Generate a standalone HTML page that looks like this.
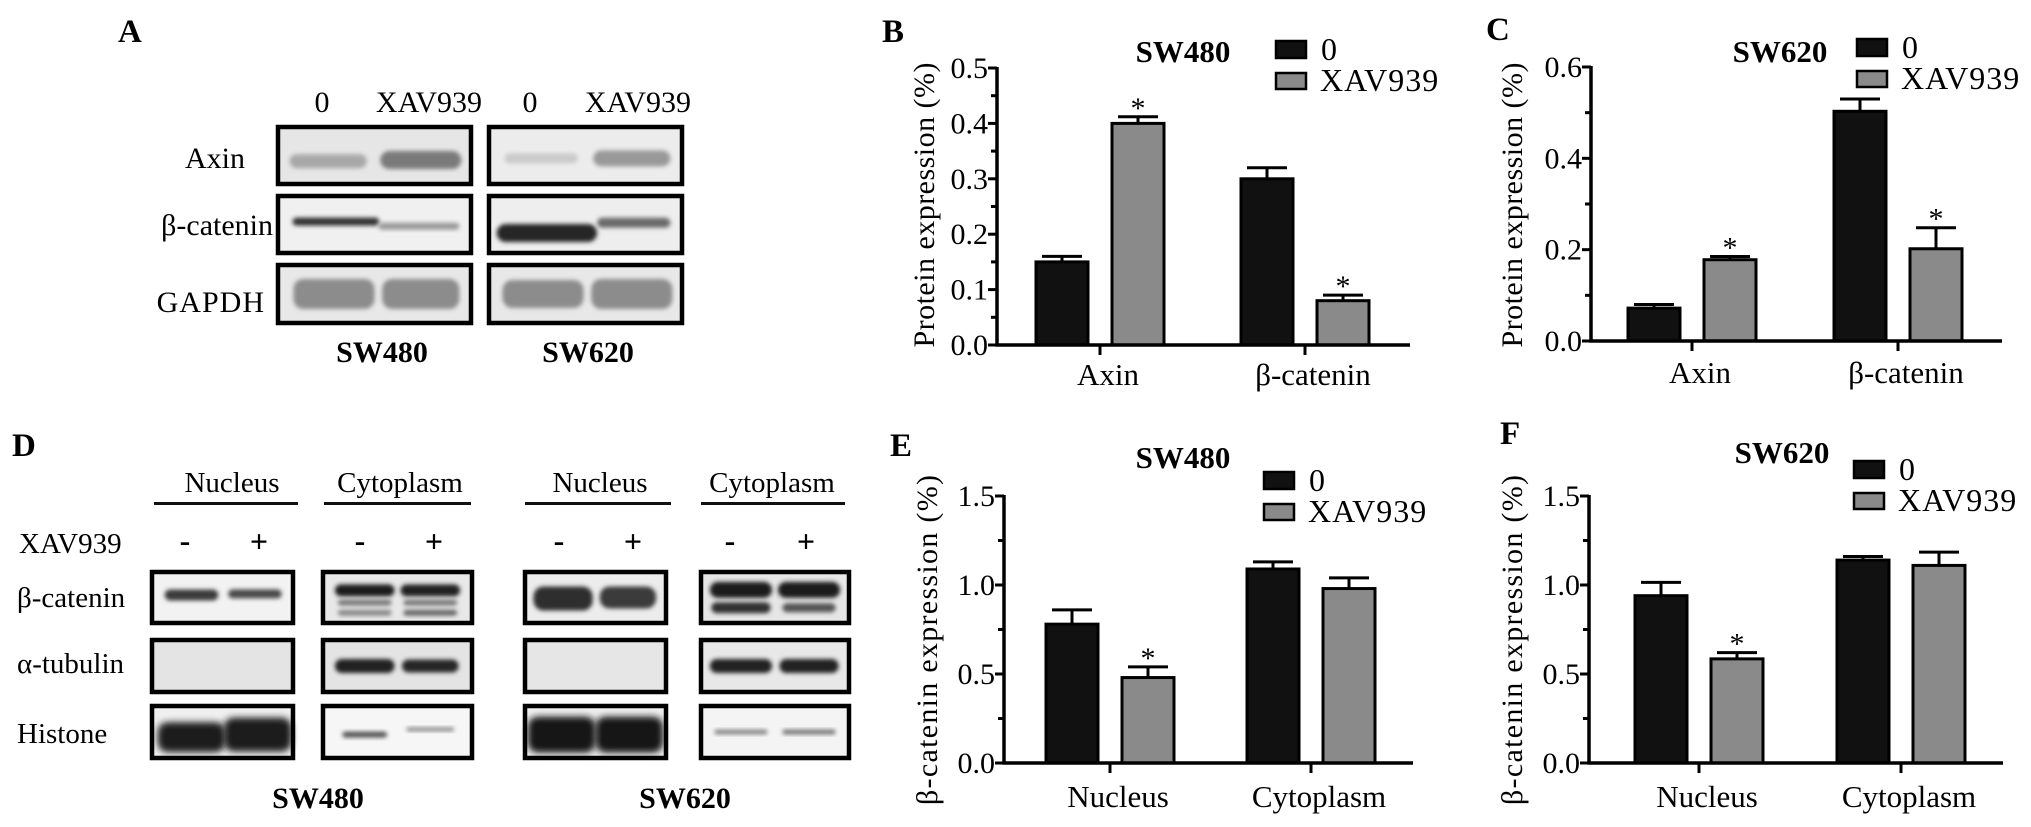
<!DOCTYPE html>
<html><head><meta charset="utf-8"><style>
html,body{margin:0;padding:0;background:#fff;}
svg{display:block;}
svg text{font-family:"Liberation Serif","DejaVu Serif",serif;}
</style></head><body>
<svg id="fig" width="2031" height="827" viewBox="0 0 2031 827" xmlns="http://www.w3.org/2000/svg">
<defs>
<filter id="bl" x="-20%" y="-50%" width="140%" height="200%"><feGaussianBlur stdDeviation="2.2"/></filter>
<filter id="bl2" x="-20%" y="-50%" width="140%" height="200%"><feGaussianBlur stdDeviation="3.5"/></filter>
</defs>
<g>
<text x="118" y="42" font-size="33" font-weight="bold">A</text>
<text x="882" y="42" font-size="33" font-weight="bold">B</text>
<text x="1486" y="40" font-size="33" font-weight="bold">C</text>
<text x="12" y="456" font-size="33" font-weight="bold">D</text>
<text x="890" y="456" font-size="33" font-weight="bold">E</text>
<text x="1500" y="444" font-size="33" font-weight="bold">F</text>

<g font-size="30">
<text x="322" y="112" text-anchor="middle">0</text>
<text x="429" y="112" text-anchor="middle">XAV939</text>
<text x="530" y="112" text-anchor="middle">0</text>
<text x="638" y="112" text-anchor="middle">XAV939</text>
<text x="245" y="168" text-anchor="end">Axin</text>
<text x="273" y="235" text-anchor="end">β-catenin</text>
<text x="265" y="312" text-anchor="end" letter-spacing="1">GAPDH</text>
<text x="382" y="362" text-anchor="middle" font-weight="bold">SW480</text>
<text x="588" y="362" text-anchor="middle" font-weight="bold">SW620</text>
<g id="blotsA"></g>
</g>

<g font-size="29">
<text x="232" y="492" text-anchor="middle">Nucleus</text>
<text x="400" y="492" text-anchor="middle">Cytoplasm</text>
<text x="600" y="492" text-anchor="middle">Nucleus</text>
<text x="772" y="492" text-anchor="middle">Cytoplasm</text>
<rect x="154" y="502" width="144" height="3" fill="#111"/>
<rect x="324" y="502" width="147" height="3" fill="#111"/>
<rect x="525" y="502" width="146" height="3" fill="#111"/>
<rect x="701" y="502" width="144" height="3" fill="#111"/>
<text x="19" y="553">XAV939</text>
<g font-size="32" font-weight="bold" text-anchor="middle">
<text x="185" y="551">-</text>
<text x="259" y="552">+</text>
<text x="360" y="551">-</text>
<text x="434" y="552">+</text>
<text x="559" y="551">-</text>
<text x="633" y="552">+</text>
<text x="730" y="551">-</text>
<text x="806" y="552">+</text>
</g>
<text x="17" y="607">β-catenin</text>
<text x="17" y="673">α-tubulin</text>
<text x="17" y="743">Histone</text>
<text x="318" y="808" text-anchor="middle" font-weight="bold" font-size="30">SW480</text>
<text x="685" y="808" text-anchor="middle" font-weight="bold" font-size="30">SW620</text>
<g id="blotsD"></g>
</g>

<g id="charts"></g>
</g>
</svg>
<script>
const bCategories = ["Axin", "β-catenin"];
const bControl = [0.15, 0.30];
const bControlErr = [0.01, 0.02];
const bXav = [0.40, 0.08];
const bXavErr = [0.012, 0.01];
const bSig = [true, true];
const bTicks = [0, 0.1, 0.2, 0.3, 0.4, 0.5];
const bTickLabels = ["0.0", "0.1", "0.2", "0.3", "0.4", "0.5"];

const cCategories = ["Axin", "β-catenin"];
const cControl = [0.072, 0.503];
const cControlErr = [0.008, 0.027];
const cXav = [0.178, 0.202];
const cXavErr = [0.007, 0.046];
const cSig = [true, true];
const cTicks = [0, 0.2, 0.4, 0.6];
const cTickLabels = ["0.0", "0.2", "0.4", "0.6"];

const eCategories = ["Nucleus", "Cytoplasm"];
const eControl = [0.78, 1.09];
const eControlErr = [0.08, 0.04];
const eXav = [0.48, 0.98];
const eXavErr = [0.06, 0.06];
const eSig = [true, false];
const eTicks = [0, 0.5, 1.0, 1.5];
const eTickLabels = ["0.0", "0.5", "1.0", "1.5"];

const fCategories = ["Nucleus", "Cytoplasm"];
const fControl = [0.94, 1.14];
const fControlErr = [0.075, 0.02];
const fXav = [0.585, 1.11];
const fXavErr = [0.035, 0.075];
const fSig = [true, false];
const fTicks = [0, 0.5, 1.0, 1.5];
const fTickLabels = ["0.0", "0.5", "1.0", "1.5"];

const NS = "http://www.w3.org/2000/svg";
function mk(tag, attrs, parent) {
  const e = document.createElementNS(NS, tag);
  for (const k in attrs) e.setAttribute(k, attrs[k]);
  parent.appendChild(e);
  return e;
}

function drawChart(L, d) {
  const root = document.getElementById("charts");
  const g = mk("g", {}, root);
  
  
  const ymax = d.ticks[d.ticks.length - 1];
  const y = v => L.y0 - (v / ymax) * (L.y0 - L.yTop);
  for (let i = 0; i < d.cats.length; i++) {
    const cx = L.catX[i];
    const series = [[d.ctrl[i], d.ctrlErr[i], "#111", -1, false], [d.xav[i], d.xavErr[i], "#8a8a8a", 1, d.sig[i]]];
    series.forEach(s => {
      const w = 52;
      const x0 = s[3] < 0 ? cx - 12 - w : cx + 12;
      const top = y(s[0]);
      const et = y(s[0] + s[1]);
      const bc = x0 + w / 2;
      const eb = mk("path", {d: `M${bc} ${top} V${et} M${bc - 20} ${et} H${bc + 20}`, stroke: "#000", "stroke-width": 3, fill: "none"}, g);
      
      
      const r = mk("rect", {x: x0, y: top, width: w, height: L.y0 - top, fill: s[2], stroke: "#000", "stroke-width": 3}, g);
      
      
      if (s[4]) {
        const t = mk("text", {x: bc, y: et + 1, "text-anchor": "middle", "font-size": 30}, g);
        t.textContent = "*";
        
        
      }
    });
    const tk = mk("line", {x1: cx, x2: cx, y1: L.y0, y2: L.y0 + 10, stroke: "#000", "stroke-width": 3}, g);
    
    
    const cl = mk("text", {x: cx + 8, y: L.catY, "text-anchor": "middle", "font-size": 31}, g);
    cl.textContent = d.cats[i];
    
    
  }
  const ax = mk("path", {d: `M${L.ax} ${L.yTop - 1} V${L.y0} H${L.xEnd}`, stroke: "#000", "stroke-width": 3.5, fill: "none"}, g);
  
  
  for (let i = 0; i < d.ticks.length; i++) {
    const ty = y(d.ticks[i]);
    const t = mk("line", {x1: L.ax - 9, x2: L.ax, y1: ty, y2: ty, stroke: "#000", "stroke-width": 3}, g);
    
    
    if (i > 0) {
      const my = y((d.ticks[i] + d.ticks[i - 1]) / 2);
      const m = mk("line", {x1: L.ax - 6, x2: L.ax, y1: my, y2: my, stroke: "#000", "stroke-width": 3}, g);
      
      
    }
    const tl = mk("text", {x: L.ax - 9, y: ty + 10, "text-anchor": "end", "font-size": 30}, g);
    tl.textContent = d.tickLabels[i];
    
    
  }
  const yl = mk("text", {x: 0, y: 0, "text-anchor": "middle", "font-size": 30, transform: `translate(${L.ylx},${L.yly}) rotate(-90)`, textLength: L.ylLen, lengthAdjust: "spacing"}, g);
  yl.textContent = L.ylabel;
  
  
  const ti = mk("text", {x: L.titleX, y: L.titleY, "text-anchor": "middle", "font-size": 31, "font-weight": "bold"}, g);
  ti.textContent = L.title;
  
  
  const l1 = mk("rect", {x: L.lgX, y: L.lgY1, width: 30, height: 17, fill: "#111", stroke: "#000", "stroke-width": 2.5}, g);
  
  
  const l2 = mk("rect", {x: L.lgX, y: L.lgY2, width: 30, height: 16, fill: "#8a8a8a", stroke: "#000", "stroke-width": 2.5}, g);
  
  
  const t1 = mk("text", {x: L.lgX + 45, y: L.lgY1 + 19, "font-size": 32}, g);
  t1.textContent = "0";
  
  
  const t2 = mk("text", {x: L.lgX + 44, y: L.lgY2 + 18, "font-size": 32, "letter-spacing": 1}, g);
  t2.textContent = "XAV939";
  
  
}

drawChart({name: "chart-b-sw480-protein", ax: 997, yTop: 68, y0: 345, xEnd: 1410, catX: [1100, 1305], catY: 385,
  ylx: 934, yly: 205, ylLen: 285, ylabel: "Protein expression (%)", title: "SW480", titleX: 1183, titleY: 62, lgX: 1276, lgY1: 41, lgY2: 73},
  {cats: bCategories, ctrl: bControl, ctrlErr: bControlErr, xav: bXav, xavErr: bXavErr, sig: bSig, ticks: bTicks, tickLabels: bTickLabels});
drawChart({name: "chart-c-sw620-protein", ax: 1591, yTop: 67, y0: 341, xEnd: 2002, catX: [1692, 1898], catY: 383,
  ylx: 1522, yly: 205, ylLen: 285, ylabel: "Protein expression (%)", title: "SW620", titleX: 1780, titleY: 62, lgX: 1857, lgY1: 39, lgY2: 71},
  {cats: cCategories, ctrl: cControl, ctrlErr: cControlErr, xav: cXav, xavErr: cXavErr, sig: cSig, ticks: cTicks, tickLabels: cTickLabels});
drawChart({name: "chart-e-sw480-beta-catenin", ax: 1004, yTop: 496, y0: 763, xEnd: 1413, catX: [1110, 1311], catY: 807,
  ylx: 937, yly: 640, ylLen: 330, ylabel: "β-catenin expression (%)", title: "SW480", titleX: 1183, titleY: 468, lgX: 1264, lgY1: 472, lgY2: 504},
  {cats: eCategories, ctrl: eControl, ctrlErr: eControlErr, xav: eXav, xavErr: eXavErr, sig: eSig, ticks: eTicks, tickLabels: eTickLabels});
drawChart({name: "chart-f-sw620-beta-catenin", ax: 1589, yTop: 496, y0: 763, xEnd: 2003, catX: [1699, 1901], catY: 807,
  ylx: 1522, yly: 640, ylLen: 330, ylabel: "β-catenin expression (%)", title: "SW620", titleX: 1782, titleY: 463, lgX: 1854, lgY1: 461, lgY2: 493},
  {cats: fCategories, ctrl: fControl, ctrlErr: fControlErr, xav: fXav, xavErr: fXavErr, sig: fSig, ticks: fTicks, tickLabels: fTickLabels});

function blotBox(parent, x, y, w, h, bg, bands, name) {
  const g = mk("g", {}, parent);
  
  
  mk("rect", {x: x, y: y, width: w, height: h, fill: bg}, g);
  bands.forEach(b => {
    const e = mk("rect", {x: x + b[0] * w - b[2] * w / 2, y: y + b[1] * h - b[3] / 2, width: b[2] * w, height: b[3], rx: Math.min(b[3] / 2, 10), fill: b[4], filter: b[5] ? "url(#bl2)" : "url(#bl)"}, g);
    
    
  });
  mk("rect", {x: x, y: y, width: w, height: h, fill: "none", stroke: "#000", "stroke-width": 4.5}, g);
}
const A = document.getElementById("blotsA");
const aX = [278, 489], aW = 193, aRows = [[127, 57], [196, 57], [265, 58]];
blotBox(A, aX[0], aRows[0][0], aW, aRows[0][1], "#e6e6e6", [[0.26, 0.6, 0.4, 14, "#a8a8a8"], [0.74, 0.58, 0.42, 18, "#7a7a7a"]], "blot-axin-sw480");
blotBox(A, aX[1], aRows[0][0], aW, aRows[0][1], "#ececec", [[0.27, 0.55, 0.38, 10, "#cacaca"], [0.74, 0.55, 0.4, 16, "#999"]], "blot-axin-sw620");
blotBox(A, aX[0], aRows[1][0], aW, aRows[1][1], "#f0f0f0", [[0.3, 0.45, 0.45, 8, "#333"], [0.73, 0.53, 0.42, 7, "#999"]], "blot-beta-catenin-sw480");
blotBox(A, aX[1], aRows[1][0], aW, aRows[1][1], "#eeeeee", [[0.3, 0.65, 0.52, 18, "#262626"], [0.75, 0.47, 0.38, 10, "#6a6a6a"]], "blot-beta-catenin-sw620");
blotBox(A, aX[0], aRows[2][0], aW, aRows[2][1], "#e8e8e8", [[0.29, 0.5, 0.42, 30, "#8c8c8c"], [0.74, 0.5, 0.4, 30, "#8c8c8c"]], "blot-gapdh-sw480");
blotBox(A, aX[1], aRows[2][0], aW, aRows[2][1], "#e8e8e8", [[0.28, 0.5, 0.42, 28, "#8c8c8c"], [0.74, 0.5, 0.42, 30, "#8c8c8c"]], "blot-gapdh-sw620");

const D = document.getElementById("blotsD");
const dX = [[152, 141], [323, 149], [525, 141], [701, 148]];
const dRows = [[572, 51], [640, 52], [706, 52]];
blotBox(D, dX[0][0], dRows[0][0], dX[0][1], dRows[0][1], "#f2f2f2", [[0.28, 0.45, 0.38, 11, "#3a3a3a"], [0.73, 0.43, 0.38, 9, "#4a4a4a"]], "blot-d-beta-catenin-sw480-nucleus");
blotBox(D, dX[1][0], dRows[0][0], dX[1][1], dRows[0][1], "#e8e8e8", [[0.28, 0.36, 0.4, 12, "#1e1e1e"], [0.72, 0.36, 0.4, 12, "#222"], [0.28, 0.6, 0.36, 6, "#777"], [0.72, 0.6, 0.36, 6, "#777"], [0.28, 0.8, 0.36, 6, "#888"], [0.72, 0.8, 0.36, 6, "#666"]], "blot-d-beta-catenin-sw480-cytoplasm");
blotBox(D, dX[2][0], dRows[0][0], dX[2][1], dRows[0][1], "#ececec", [[0.27, 0.52, 0.42, 24, "#2e2e2e"], [0.73, 0.5, 0.4, 22, "#3a3a3a"]], "blot-d-beta-catenin-sw620-nucleus");
blotBox(D, dX[3][0], dRows[0][0], dX[3][1], dRows[0][1], "#e6e6e6", [[0.27, 0.35, 0.42, 16, "#1e1e1e"], [0.73, 0.35, 0.42, 16, "#1e1e1e"], [0.27, 0.7, 0.4, 11, "#333"], [0.73, 0.7, 0.36, 9, "#555"]], "blot-d-beta-catenin-sw620-cytoplasm");
blotBox(D, dX[0][0], dRows[1][0], dX[0][1], dRows[1][1], "#e4e4e4", [], "blot-d-alpha-tubulin-sw480-nucleus");
blotBox(D, dX[1][0], dRows[1][0], dX[1][1], dRows[1][1], "#e4e4e4", [[0.28, 0.5, 0.4, 14, "#222"], [0.72, 0.5, 0.38, 13, "#262626"]], "blot-d-alpha-tubulin-sw480-cytoplasm");
blotBox(D, dX[2][0], dRows[1][0], dX[2][1], dRows[1][1], "#e6e6e6", [], "blot-d-alpha-tubulin-sw620-nucleus");
blotBox(D, dX[3][0], dRows[1][0], dX[3][1], dRows[1][1], "#e8e8e8", [[0.27, 0.5, 0.42, 14, "#222"], [0.73, 0.5, 0.4, 14, "#222"]], "blot-d-alpha-tubulin-sw620-cytoplasm");
blotBox(D, dX[0][0], dRows[2][0], dX[0][1], dRows[2][1], "#f0f0f0", [[0.28, 0.6, 0.48, 30, "#1a1a1a", 1], [0.75, 0.55, 0.48, 34, "#1a1a1a", 1]], "blot-d-histone-sw480-nucleus");
blotBox(D, dX[1][0], dRows[2][0], dX[1][1], dRows[2][1], "#f6f6f6", [[0.28, 0.55, 0.3, 6, "#555"], [0.72, 0.45, 0.32, 4, "#888"]], "blot-d-histone-sw480-cytoplasm");
blotBox(D, dX[2][0], dRows[2][0], dX[2][1], dRows[2][1], "#efefef", [[0.26, 0.55, 0.48, 36, "#161616", 1], [0.74, 0.55, 0.48, 36, "#161616", 1]], "blot-d-histone-sw620-nucleus");
blotBox(D, dX[3][0], dRows[2][0], dX[3][1], dRows[2][1], "#f4f4f4", [[0.27, 0.5, 0.36, 5, "#888"], [0.73, 0.5, 0.36, 5, "#777"]], "blot-d-histone-sw620-cytoplasm");
</script>
</body></html>
